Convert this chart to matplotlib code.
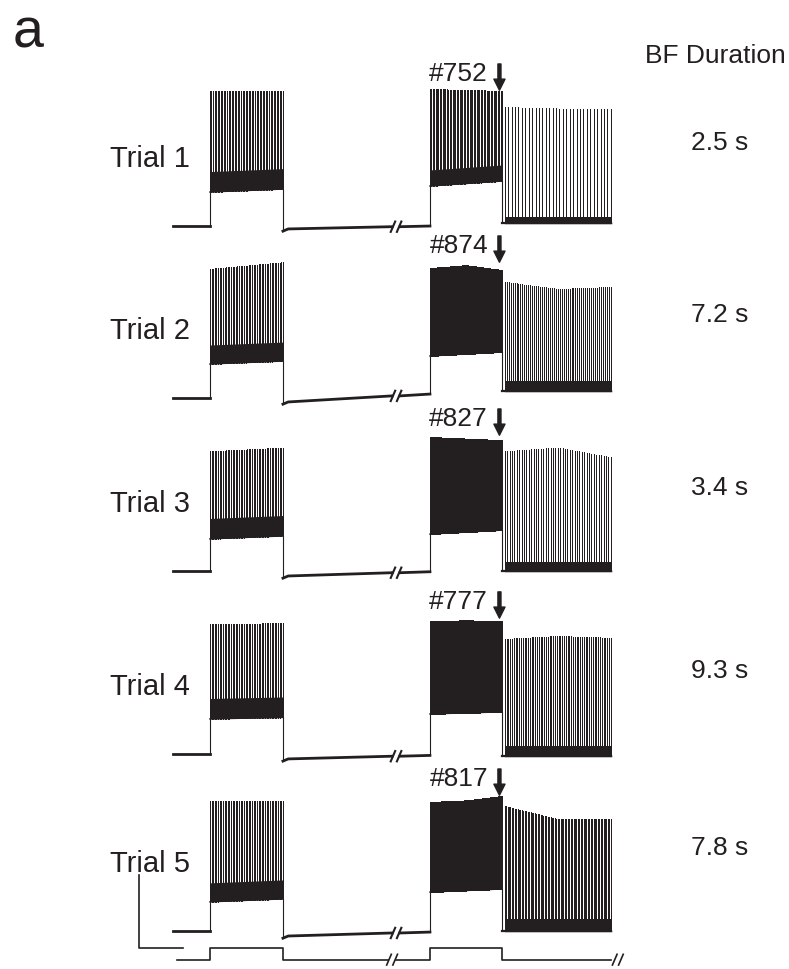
import matplotlib
matplotlib.use("Agg")
import matplotlib.pyplot as plt
import numpy as np

plt.rcParams["font.family"] = ["Liberation Sans", "DejaVu Sans"]

# Labels
trials = ["Trial 1", "Trial 2", "Trial 3", "Trial 4", "Trial 5"]
bf_duration = ["2.5 s", "7.2 s", "3.4 s", "9.3 s", "7.8 s"]
spike_no = ["#752", "#874", "#827", "#777", "#817"]

# Membrane potential (mV)
v_rest = -65.0
burst1_peak = [[27.5, 27.5], [23.4, 28.0], [17.0, 19.5], [24.0, 24.5], [24.0, 24.0]]
burst1_trough = [[-41.7, -39.7], [-41.7, -39.7], [-43.0, -41.0], [-41.0, -40.0], [-45.0, -43.0]]
burst1_band = [14, 13, 14, 14, 13]
hyp = [[-67.0, -65.0], [-67.7, -62.3], [-68.4, -65.5], [-68.4, -66.0], [-68.4, -65.7]]
burst2_peak = [[28.8, 28.2, 27.5], [24.0, 26.0, 22.7], [26.8, 25.7, 24.7], [26.0, 26.5, 26.0], [23.4, 24.5, 27.5]]
burst2_trough = [[-37.6, -34.2], [-36.2, -33.5], [-39.7, -37.0], [-37.6, -36.2], [-38.3, -36.2]]
burst2_band = [11, 12, 12, 10, 12]
post_peak = [[16.5, 15.5, 15.0], [14.5, 9.7, 11.0], [17.0, 19.6, 13.0], [13.8, 15.8, 14.5], [20.6, 11.7, 12.0]]
post_trough = [-63.0, -60.2, -65.0, -66.4, -65.0]
post_band = [4, 7, 6, 7, 8]

# Spike counts per segment
n_burst1 = [48, 46, 46, 46, 46]
n_burst2 = [52, 80, 80, 80, 80]
n_post = [32, 55, 45, 60, 75]

# Protocol timing (s)
t_pre, t_on1, t_off1, t_brk, t_on2, t_bf, t_end = -0.84, 0.0, 1.66, 4.23, 5.0, 6.64, 9.11
# vertical placement of each trial (mV below the first one)
trial_offset = [0.0, 117.8, 236.3, 361.6, 482.9]
ink = "#231f20"

fig = plt.figure(figsize=(7.89, 9.70), dpi=100)
ax = fig.add_axes([0, 0, 1, 1])
ax.set_xlim(-4.77, 13.16)
ax.set_ylim(-573.9, 90.5)
ax.axis("off")


def spikes(t0, t1, n, peak, trough, band, off, lw=0.55):
    t = np.linspace(t0, t1, n)
    top = np.interp(t, np.linspace(t0, t1, len(peak)), peak) + off
    bot = np.interp(t, np.linspace(t0, t1, len(trough)), trough) + off
    ax.vlines(t, bot, top, color=ink, lw=lw, antialiased=False)
    tr = np.asarray(trough, dtype=float) + off
    tx = np.linspace(t0, t1, len(tr))
    ax.fill_between(tx, tr, tr + band, color=ink, lw=0)
    ax.plot(tx, tr, color=ink, lw=1.0)


def break_mark(t, v, dx=0.07, h=4.2, lw=1.5):
    for s in (-dx, dx):
        ax.plot([t + s - 0.06, t + s + 0.06], [v - h, v + h], color=ink, lw=lw,
                solid_capstyle="butt")


for i in range(len(trials)):
    off = -trial_offset[i]
    # resting baseline and first step
    ax.plot([t_pre, t_on1], [v_rest + off] * 2, color=ink, lw=2.0)
    ax.plot([t_on1, t_on1], [v_rest + off, burst1_trough[i][0] + off], color=ink, lw=0.8)
    spikes(t_on1, t_off1, n_burst1[i], burst1_peak[i], burst1_trough[i], burst1_band[i], off)
    # step off, hyperpolarised baseline with a time break
    ax.plot([t_off1, t_off1], [burst1_trough[i][1] + off, hyp[i][0] - 1.5 + off], color=ink, lw=0.8)
    vb = np.interp(t_brk, [t_off1, t_on2], hyp[i]) + off
    ax.plot([t_off1, t_off1 + 0.12, t_brk - 0.09], [hyp[i][0] - 1.5 + off, hyp[i][0] + off, vb],
            color=ink, lw=2.0)
    ax.plot([t_brk + 0.09, t_on2], [vb, hyp[i][1] + off], color=ink, lw=2.0)
    break_mark(t_brk, vb)
    # second step, bursting until BF
    ax.plot([t_on2, t_on2], [hyp[i][1] + off, burst2_trough[i][0] + off], color=ink, lw=0.8)
    spikes(t_on2, t_bf, n_burst2[i], burst2_peak[i], burst2_trough[i], burst2_band[i], off)
    ax.plot([t_bf, t_bf], [burst2_trough[i][1] + off, post_trough[i] + off], color=ink, lw=0.8)
    spikes(t_bf + 0.06, t_end, n_post[i], post_peak[i], [post_trough[i]] * 2, post_band[i], off, lw=0.6)
    ax.plot([t_bf, t_end], [post_trough[i] + off] * 2, color=ink, lw=1.6)

    # text
    ax.text(-0.45, v_rest + 41 + off, trials[i], ha="right", va="baseline", fontsize=21, color=ink)
    ax.text(11.59, v_rest + 52.7 + off, bf_duration[i], ha="center", va="baseline", fontsize=19, color=ink)
    ax.text(6.32, v_rest + 100 + off, spike_no[i], ha="right", va="baseline", fontsize=19, color=ink)
    ax.annotate("", xy=(6.58, v_rest + 93 + off), xytext=(6.58, v_rest + 111 + off),
                arrowprops=dict(width=2.2, headwidth=8, headlength=8, color=ink, shrink=0))

ax.text(11.48, 47.3, "BF Duration", ha="center", va="baseline", fontsize=19, color=ink)
fig.text(13 / 789, 1 - 47 / 970, "a", fontsize=40, va="baseline", color=ink)

# stimulus command trace
stim_hi = v_rest - trial_offset[-1] - 11.4
stim_lo = stim_hi - 8.2
t_stim0, t_sbrk = -0.75, 4.14
ax.plot([t_stim0, t_on1, t_on1, t_off1, t_off1, t_sbrk - 0.09], [stim_lo, stim_lo, stim_hi, stim_hi, stim_lo, stim_lo],
        color=ink, lw=1.2)
ax.plot([t_sbrk + 0.09, t_on2, t_on2, t_bf, t_bf, t_end], [stim_lo, stim_lo, stim_hi, stim_hi, stim_lo, stim_lo],
        color=ink, lw=1.2)
break_mark(t_sbrk, stim_lo, lw=1.2)
break_mark(t_end + 0.16, stim_lo, lw=1.2)

# scale bar: 50 mV, 1 s
ax.plot([-1.61, -1.61, -0.61], [stim_hi + 50, stim_hi, stim_hi], color=ink, lw=1.2)

fig.savefig("out.png", dpi=100)
